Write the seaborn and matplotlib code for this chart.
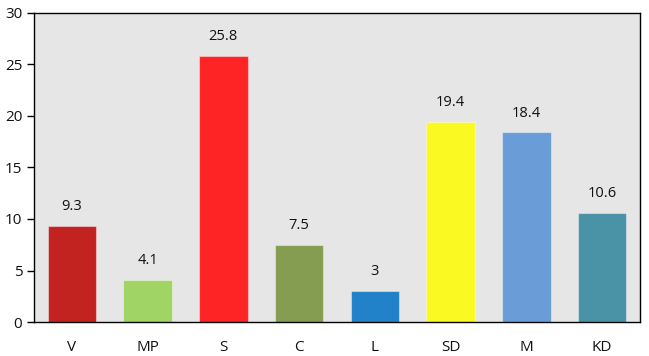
import matplotlib
matplotlib.use("Agg")
import matplotlib.pyplot as plt
import seaborn as sns
import pandas as pd

parties = ["V", "MP", "S", "C", "L", "SD", "M", "KD"]
values = [9.3, 4.1, 25.8, 7.5, 3, 19.4, 18.4, 10.6]
colors = ["#c22321", "#a0d566", "#fe2324", "#859d50", "#2181c9", "#fbf922", "#6a9dd7", "#4a93a7"]
labels = ["9.3", "4.1", "25.8", "7.5", "3", "19.4", "18.4", "10.6"]

sns.set_theme(style="white")
plt.rcParams["font.family"] = ["Open Sans", "DejaVu Sans"]

df = pd.DataFrame({"party": parties, "value": values})

fig = plt.figure(figsize=(6.49, 3.56), dpi=100)
ax = fig.add_axes([0.0524, 0.0955, 0.9336, 0.868])
ax.set_facecolor("#e6e6e6")

sns.barplot(data=df, x="party", y="value", hue="party", palette=colors,
            legend=False, width=0.64, ax=ax, saturation=1)
for p in ax.patches:
    p.set_edgecolor((1, 1, 1, 0.4))
    p.set_linewidth(0.8)

for i, (v, t) in enumerate(zip(values, labels)):
    ax.annotate(t, (i, v), xytext=(0, 8.5), textcoords="offset points",
                ha="center", va="bottom", fontsize=10.5, color="#111111")

ax.set_ylim(0, 30)
ax.set_xlim(-0.5, 7.5)
ax.set_yticks(range(0, 31, 5))
ax.set_xlabel("")
ax.set_ylabel("")
ax.tick_params(axis="y", left=True, length=5, width=1, color="black", labelsize=11, labelcolor="#111111")
ax.tick_params(axis="x", bottom=False, labelsize=11, labelcolor="#111111", pad=7)
for s in ax.spines.values():
    s.set_color("black")
    s.set_linewidth(1)

fig.savefig("out.png", dpi=100)
